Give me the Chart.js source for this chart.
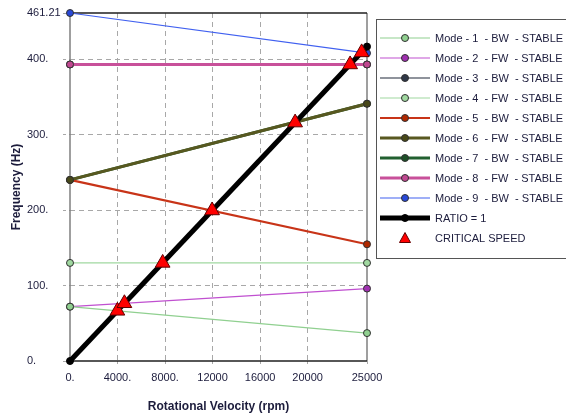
<!DOCTYPE html>
<html lang="en">
<head>
<meta charset="UTF-8">
<title>Campbell Diagram</title>
<script src="https://cdn.jsdelivr.net/npm/chart.js"></script>
<style>
  html, body { margin: 0; padding: 0; background: #fff; }
</style>
</head>
<body>
<canvas id="campbell" width="566" height="417"></canvas>
<script>
// --- data ---
const rpmEnds = [0, 25000];
const modeNames = [
  'Mode - 1  - BW  - STABLE', 'Mode - 2  - FW  - STABLE', 'Mode - 3  - BW  - STABLE',
  'Mode - 4  - FW  - STABLE', 'Mode - 5  - BW  - STABLE', 'Mode - 6  - FW  - STABLE',
  'Mode - 7  - BW  - STABLE', 'Mode - 8  - FW  - STABLE', 'Mode - 9  - BW  - STABLE'
];
const modeStart = [72, 72, 393, 130, 240, 240, 240, 393, 461.21];
const modeEnd   = [37, 96, 393, 130, 154.7, 341, 341, 393, 408];
const ratioFreq = [0, 416.7];
const critRpm  = [3990, 4580, 7800, 11960, 18950, 23580, 24550];
const critFreq = [66.5, 76.5, 130, 199.5, 316, 393, 409];
const xTicks = [0, 4000, 8000, 12000, 16000, 20000, 25000];
const xTickLabels = ['0.', '4000.', '8000.', '12000', '16000', '20000', '25000'];
const yTicks = [0, 100, 200, 300, 400, 461.21];
const yTickLabels = ['0.', '100.', '200.', '300.', '400.', '461.21'];

// --- styles ---
const lineColors   = ['#90d090', '#c050d0', '#20283a', '#a0d8a0', '#c83418', '#585820', '#226030', '#c8509a', '#4060f0'];
const markerColors = ['#90d090', '#a030b0', '#303848', '#a0d8a0', '#b02800', '#484818', '#1e5028', '#c04890', '#2848d8'];
const lineWidths   = [1.2, 1.2, 1.2, 1.2, 2.2, 3, 3, 3, 1.2];
const drawOrder    = [3, 3, 5, 3, 3, 2, 5, 2, 3];
const FONT = '"Liberation Sans", Arial, sans-serif';
const TEXT = '#1c1c3c';

const datasets = modeNames.map((name, i) => ({
  label: name,
  data: rpmEnds.map((r, j) => ({ x: r, y: j === 0 ? modeStart[i] : modeEnd[i] })),
  borderColor: lineColors[i],
  borderWidth: lineWidths[i],
  pointRadius: 3.5,
  pointBackgroundColor: markerColors[i],
  pointBorderColor: '#303030',
  pointBorderWidth: 1,
  clip: false,
  order: drawOrder[i]
}));
datasets.push({
  label: 'RATIO = 1',
  data: rpmEnds.map((r, j) => ({ x: r, y: ratioFreq[j] })),
  borderColor: '#000',
  borderWidth: 5,
  pointRadius: 3.5,
  pointBackgroundColor: '#000',
  pointBorderColor: '#000',
  pointBorderWidth: 1,
  clip: false,
  order: 1
});
datasets.push({
  label: 'CRITICAL SPEED',
  data: critRpm.map((r, i) => ({ x: r, y: critFreq[i] })),
  showLine: false,
  pointStyle: 'triangle',
  pointRadius: 8.5,
  pointBackgroundColor: '#ff0000',
  pointBorderColor: '#600000',
  pointBorderWidth: 1,
  clip: false,
  order: 0
});

// frame round the plot area
const frame = {
  id: 'frame',
  beforeDatasetsDraw(chart) {
    const { ctx, chartArea: a } = chart;
    ctx.save();
    ctx.lineWidth = 1.5;
    ctx.strokeStyle = '#808080';
    ctx.beginPath();
    ctx.moveTo(a.left, a.top); ctx.lineTo(a.left, a.bottom);
    ctx.moveTo(a.right, a.top); ctx.lineTo(a.right, a.bottom);
    ctx.stroke();
    ctx.strokeStyle = '#202020';
    ctx.beginPath();
    ctx.moveTo(a.left, a.top); ctx.lineTo(a.right, a.top);
    ctx.moveTo(a.left, a.bottom); ctx.lineTo(a.right, a.bottom);
    ctx.stroke();
    ctx.restore();
  }
};

// y title + boxed legend with line samples
const extras = {
  id: 'extras',
  afterDraw(chart) {
    const { ctx, chartArea: a } = chart;
    ctx.save();
    ctx.fillStyle = TEXT;
    ctx.font = 'bold 12px ' + FONT;
    ctx.textAlign = 'center';
    ctx.textBaseline = 'middle';
    ctx.translate(17, (a.top + a.bottom) / 2);
    ctx.rotate(-Math.PI / 2);
    ctx.fillText('Frequency (Hz)', 0, 0);
    ctx.restore();

    ctx.save();
    ctx.strokeStyle = '#555';
    ctx.lineWidth = 1;
    ctx.strokeRect(376.5, 19.5, 220, 239);
    ctx.font = '11px ' + FONT;
    ctx.textBaseline = 'middle';
    ctx.textAlign = 'left';
    chart.data.datasets.forEach((ds, i) => {
      const y = 38 + i * 20;
      const mx = 405;
      if (ds.showLine !== false) {
        ctx.strokeStyle = ds.borderColor;
        ctx.lineWidth = ds.borderWidth;
        ctx.beginPath();
        ctx.moveTo(380, y); ctx.lineTo(430, y);
        ctx.stroke();
        ctx.fillStyle = ds.pointBackgroundColor;
        ctx.strokeStyle = ds.pointBorderColor;
        ctx.lineWidth = 1;
        ctx.beginPath();
        ctx.arc(mx, y, 3.5, 0, Math.PI * 2);
        ctx.fill(); ctx.stroke();
      } else {
        ctx.fillStyle = ds.pointBackgroundColor;
        ctx.strokeStyle = ds.pointBorderColor;
        ctx.lineWidth = 1;
        ctx.beginPath();
        ctx.moveTo(mx, y - 5.5); ctx.lineTo(mx + 5.5, y + 4.5); ctx.lineTo(mx - 5.5, y + 4.5);
        ctx.closePath();
        ctx.fill(); ctx.stroke();
      }
      ctx.fillStyle = TEXT;
      ctx.fillText(ds.label, 435, y + 1);
    });
    ctx.restore();
  }
};

const gridColor = (edges) => (c) => edges.includes(c.tick.value) ? 'rgba(0,0,0,0)' : '#a8a8a8';

new Chart(document.getElementById('campbell'), {
  type: 'line',
  data: { datasets },
  options: {
    responsive: false,
    animation: false,
    layout: { padding: { left: 27, top: 13, right: 199, bottom: 0 } },
    plugins: { legend: { display: false }, tooltip: { enabled: false } },
    scales: {
      x: {
        type: 'linear',
        min: 0,
        max: 25000,
        afterBuildTicks: s => { s.ticks = xTicks.map(v => ({ value: v })); },
        afterFit: s => { s.height = 56; },
        ticks: {
          autoSkip: false,
          maxRotation: 0,
          padding: 4,
          color: TEXT,
          font: { family: FONT, size: 11 },
          callback: (v, i) => xTickLabels[i]
        },
        grid: { color: gridColor([0, 25000]), tickColor: '#a8a8a8', tickLength: 6, tickBorderDash: [3, 3] },
        border: { display: false, dash: [5, 4] },
        title: {
          display: true,
          text: 'Rotational Velocity (rpm)',
          color: TEXT,
          font: { family: FONT, size: 12, weight: 'bold' },
          padding: { top: 0, bottom: 3 }
        }
      },
      y: {
        min: 0,
        max: 461.21,
        afterBuildTicks: s => { s.ticks = yTicks.map(v => ({ value: v })); },
        afterFit: s => { s.width = 43; },
        ticks: {
          crossAlign: 'far',
          color: TEXT,
          font: { family: FONT, size: 11 },
          callback: (v, i) => yTickLabels[i]
        },
        grid: { color: gridColor([0, 461.21]), tickColor: '#a8a8a8', tickLength: 7, tickBorderDash: [3, 3] },
        border: { display: false, dash: [5, 4] },
        title: { display: false }
      }
    }
  },
  plugins: [frame, extras]
});
</script>
</body>
</html>
